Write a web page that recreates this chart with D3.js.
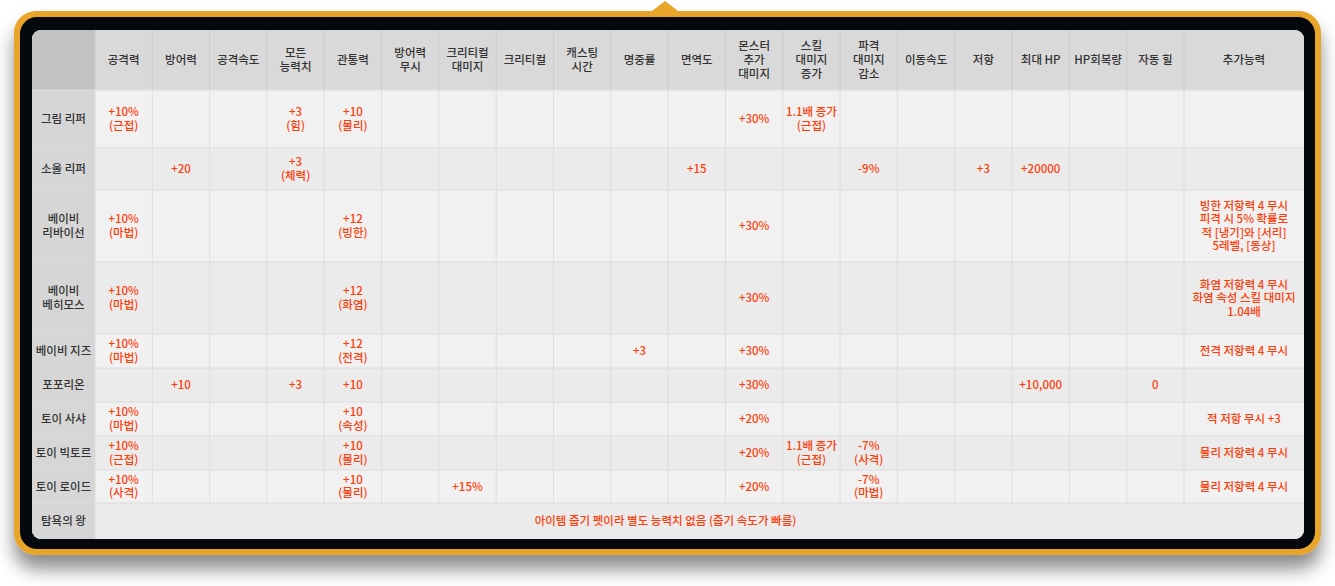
<!DOCTYPE html>
<html><head><meta charset="utf-8">
<script src="https://cdn.jsdelivr.net/npm/d3@7"></script>
<style>
body{margin:0;background:#fff;}
text{font-family:"Noto Sans CJK KR","Noto Sans",sans-serif;}
</style></head>
<body><div id="chart"></div>
<script>
// table content
const columns = ['', '공격력', '방어력', '공격속도', '모든\n능력치', '관통력', '방어력\n무시', '크리티컬\n대미지', '크리티컬', '캐스팅\n시간', '명중률',
    '면역도', '몬스터\n추가\n대미지', '스킬\n대미지\n증가', '파격\n대미지\n감소', '이동속도', '저항', '최대 HP', 'HP회복량', '자동 힐', '추가능력'];
const rowLabels = ['그림 리퍼', '소울 리퍼', '베이비\n리바이선', '베이비\n베히모스', '베이비 지즈', '포포리온', '토이 사샤', '토이 빅토르', '토이 로이드', '탐욕의 왕'];
const grimReaper = ['+10%\n(근접)', '', '', '+3\n(힘)', '+10\n(물리)', '', '', '', '', '', '', '+30%', '1.1배 증가\n(근접)', '', '', '', '', '', '', ''];
const soulReaper = ['', '+20', '', '+3\n(체력)', '', '', '', '', '', '', '+15', '', '', '-9%', '', '+3', '+20000', '', '', ''];
const babyLeviathan = ['+10%\n(마법)', '', '', '', '+12\n(빙한)', '', '', '', '', '', '', '+30%', '', '', '', '', '', '', '', '빙한 저항력 4 무시\n피격 시 5% 확률로\n적 [냉기]와 [서리]\n5레벨, [동상]'];
const babyBehemoth = ['+10%\n(마법)', '', '', '', '+12\n(화염)', '', '', '', '', '', '', '+30%', '', '', '', '', '', '', '', '화염 저항력 4 무시\n화염 속성 스킬 대미지\n1.04배'];
const babyZiz = ['+10%\n(마법)', '', '', '', '+12\n(전격)', '', '', '', '', '+3', '', '+30%', '', '', '', '', '', '', '', '전격 저항력 4 무시'];
const poporion = ['', '+10', '', '+3', '+10', '', '', '', '', '', '', '+30%', '', '', '', '', '+10,000', '', '0', ''];
const toySasha = ['+10%\n(마법)', '', '', '', '+10\n(속성)', '', '', '', '', '', '', '+20%', '', '', '', '', '', '', '', '적 저항 무시 +3'];
const toyViktor = ['+10%\n(근접)', '', '', '', '+10\n(물리)', '', '', '', '', '', '', '+20%', '1.1배 증가\n(근접)', '-7%\n(사격)', '', '', '', '', '', '물리 저항력 4 무시'];
const toyLloyd = ['+10%\n(사격)', '', '', '', '+10\n(물리)', '', '+15%', '', '', '', '', '+20%', '', '-7%\n(마법)', '', '', '', '', '', '물리 저항력 4 무시'];
const kingOfGreedNote = '아이템 줍기 펫이라 별도 능력치 없음 (줍기 속도가 빠름)';

const rows = [grimReaper, soulReaper, babyLeviathan, babyBehemoth, babyZiz, poporion, toySasha, toyViktor, toyLloyd];

// layout
const W = 1335, H = 586;
const tx = 32, ty = 30, tw = 1272, th = 509;
const headerH = 60;
const rowH = [58, 42, 72, 72, 34, 34, 34, 34, 33, 36];
const colW = columns.map((c, i) => i === 0 ? 63 : i === columns.length - 1 ? 120 : (tw - 183) / (columns.length - 2));
const colX = d3.cumsum([0, ...colW]).map(v => tx + v);
const rowY = d3.cumsum([0, headerH, ...rowH]).map(v => ty + v);

const svg = d3.select('#chart').append('svg').attr('width', W).attr('height', H);
const defs = svg.append('defs');
const f = defs.append('filter').attr('id', 'shadow').attr('x', '-5%').attr('y', '-5%').attr('width', '110%').attr('height', '125%');
f.append('feDropShadow').attr('dx', 0).attr('dy', 14).attr('stdDeviation', 9).attr('flood-color', '#000').attr('flood-opacity', 0.45);
defs.append('clipPath').attr('id', 'tclip').append('rect')
    .attr('x', tx).attr('y', ty).attr('width', tw).attr('height', th).attr('rx', 9);

// frame
svg.append('rect').attr('x', 14).attr('y', 11).attr('width', 1307).attr('height', 544).attr('rx', 22)
    .attr('fill', '#e8a52a').attr('filter', 'url(#shadow)');
svg.append('path').attr('d', 'M652,11 L665,1 L678,11 Z').attr('fill', '#e8a52a');
svg.append('rect').attr('x', 20).attr('y', 17).attr('width', 1295).attr('height', 532).attr('rx', 17).attr('fill', '#05080c');

const table = svg.append('g').attr('clip-path', 'url(#tclip)');
table.append('rect').attr('x', tx).attr('y', ty).attr('width', tw).attr('height', th).attr('fill', '#eeeeee');

const red = '#ff3d0a';

function multiline(g, txt, x, y, color, size, lh) {
    const lines = txt.split('\n');
    const t = g.append('text').attr('x', x).attr('text-anchor', 'middle').attr('fill', color)
        .style('font-size', size + 'px').style('font-weight', 500);
    lines.forEach((l, j) => {
        t.append('tspan').attr('x', x).attr('y', y + (j - (lines.length - 1) / 2) * lh + size * 0.36).text(l);
    });
}

// header
table.append('rect').attr('x', tx).attr('y', ty).attr('width', tw).attr('height', headerH).attr('fill', '#d9d9d9');
table.append('rect').attr('x', tx).attr('y', ty).attr('width', colW[0]).attr('height', headerH).attr('fill', '#c2c2c2');
columns.forEach((c, i) => {
    if (i > 0) {
        table.append('line').attr('x1', colX[i]).attr('x2', colX[i]).attr('y1', ty).attr('y2', ty + headerH)
            .attr('stroke', '#cbcbcb');
    }
    multiline(table, c, colX[i] + colW[i] / 2, ty + headerH / 2, '#333', 11.5, 14);
});

// body rows
rowLabels.forEach((name, r) => {
    const y0 = rowY[r + 1], h = rowH[r];
    table.append('rect').attr('x', tx).attr('y', y0).attr('width', tw).attr('height', h)
        .attr('fill', r % 2 === 0 ? '#f1f1f1' : '#ebebeb');
    table.append('rect').attr('x', tx).attr('y', y0).attr('width', colW[0]).attr('height', h).attr('fill', '#d6d6d6');
    table.append('line').attr('x1', tx).attr('x2', tx + tw).attr('y1', y0).attr('y2', y0).attr('stroke', '#dcdcdc');
    multiline(table, name, colX[0] + colW[0] / 2, y0 + h / 2, '#333', 11.5, 14);
    const vals = rows[r];
    if (vals) {
        vals.forEach((v, c) => {
            const i = c + 1;
            table.append('line').attr('x1', colX[i]).attr('x2', colX[i]).attr('y1', y0).attr('y2', y0 + h).attr('stroke', '#dddddd');
            if (v) multiline(table, v, colX[i] + colW[i] / 2, y0 + h / 2, red, 11.5, 13.5);
        });
    } else {
        table.append('line').attr('x1', colX[1]).attr('x2', colX[1]).attr('y1', y0).attr('y2', y0 + h).attr('stroke', '#dddddd');
        multiline(table, kingOfGreedNote, colX[1] + (colX[colX.length - 1] - colX[1]) / 2 - 34, y0 + h / 2, red, 11.5, 14);
    }
});
</script></body></html>
